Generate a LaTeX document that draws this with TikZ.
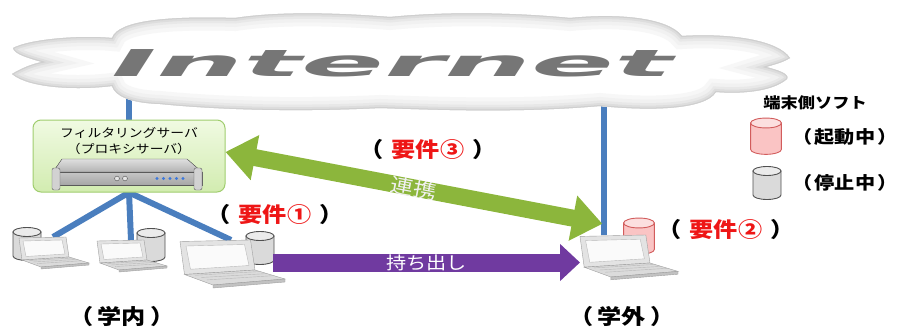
\documentclass[tikz,border=0pt]{standalone}
\usepackage{fontspec}
\setmainfont{Noto Sans CJK JP}[FakeStretch=1.15]
\newfontfamily\inetfont{DejaVu Sans Bold Oblique}
\usepackage{tikz}
\usetikzlibrary{arrows.meta,positioning,calc,backgrounds}
\definecolor{linkblue}{RGB}{74,126,190}
\definecolor{boxgreen}{RGB}{160,205,110}
\definecolor{lightgreen}{RGB}{240,250,226}
\definecolor{midgreen}{RGB}{210,236,176}
\definecolor{arrowgreen}{RGB}{140,182,60}
\definecolor{purple2}{RGB}{112,58,160}
\definecolor{red2}{RGB}{238,22,22}
\definecolor{pinkfill}{RGB}{250,196,196}
\definecolor{pinkline}{RGB}{210,92,92}
\definecolor{cylfill}{RGB}{218,218,218}
\definecolor{cylline}{RGB}{80,80,80}
\definecolor{ledblue}{RGB}{60,120,220}
\definecolor{inetgray}{RGB}{118,118,118}
\newcommand{\paren}[2]{（\hspace{#1}#2\hspace{#1}）}
\newcommand{\req}[1]{\paren{.4em}{\textcolor{red2}{要件#1}}}
\newcommand{\cloudoutline}{(112,38) .. controls (118,20) and (170,16) .. (235,18)
  .. controls (280,11) and (340,13) .. (390,17) .. controls (450,11) and (520,13) .. (570,18)
  .. controls (620,13) and (668,18) .. (682,36) .. controls (730,33) and (778,40) .. (790,58)
  .. controls (782,63) and (772,65) .. (766,67) .. controls (778,70) and (790,74) .. (787,79)
  .. controls (772,92) and (740,94) .. (716,92) .. controls (705,110) and (650,111) .. (600,106)
  .. controls (520,113) and (440,110) .. (380,108) .. controls (300,112) and (220,110) .. (160,104)
  .. controls (130,103) and (115,96) .. (112,86) .. controls (80,90) and (30,89) .. (12,74)
  .. controls (22,68) and (32,64) .. (42,62) .. controls (28,58) and (14,54) .. (13,48)
  .. controls (30,39) and (80,35) .. (112,38) -- cycle}
\tikzset{
  link/.style={draw=linkblue, line width=6pt},
  srvbox/.style={draw=boxgreen, rounded corners=8pt, line width=1pt,
    top color=lightgreen, bottom color=midgreen, minimum width=192pt, minimum height=72pt},
  reqtext/.style={font=\fontsize{21}{26}\selectfont\bfseries, inner sep=0pt},
  legtext/.style={font=\fontsize{17.5}{22}\selectfont\bfseries, inner sep=0pt},
  coop/.style={draw=arrowgreen, line width=17pt,
    {Triangle[length=30pt,width=44pt]}-{Triangle[length=30pt,width=44pt]}},
  takeout/.style={draw=purple2, line width=18pt, -{Triangle[length=20pt,width=36pt]}},
  pics/laptop/.style={code={
    \filldraw[draw=gray!75, fill=gray!22] (0,1) -- (47,0) -- (50,20) -- (3,23) -- cycle;
    \filldraw[draw=gray!55, fill=gray!4] (4,4) -- (43,3) -- (46,17) -- (7,19.5) -- cycle;
    \filldraw[draw=gray!75, fill=gray!28] (3,23) -- (50,20) -- (70,26) -- (22,30) -- cycle;
    \draw[gray!55, line width=0.4pt] (10,23.5) -- (54,21) (14,25) -- (58,22.4) (18,26.6) -- (62,23.8);
    \filldraw[draw=gray!75, fill=gray!48] (22,30) -- (70,26) -- (70,28) -- (22,32) -- cycle;
    \coordinate (-top) at (34,0);
    \coordinate (-topleft) at (17,0);
    \coordinate (-tip) at (16,-8);
    \coordinate (-east) at (62,15);
    \coordinate (-west) at (0,18);
  }},
  pics/cyl/.style n args={2}{code={
    \filldraw[draw=#1, fill=#2, line width=0.9pt] (-14,0) -- (-14,24)
      arc[start angle=180, end angle=0, x radius=14, y radius=4.5] -- (14,0) -- cycle;
    \filldraw[draw=#1, fill=#2!55!white, line width=0.9pt] (0,0) ellipse[x radius=14, y radius=4.5];
  }}
}
\begin{document}
\begin{tikzpicture}[x=1pt,y=-1pt]
\useasboundingbox (0,0) rectangle (900,329);

% cloud with a soft grey rim
\fill[white] \cloudoutline;
\begin{scope}
  \clip \cloudoutline;
  \foreach \w/\c in {26/6,18/11,11/18,6/27,2/38}
    \draw[gray!\c, line width=\w pt] \cloudoutline;
\end{scope}
\node[font=\fontsize{37}{40}\selectfont\inetfont, text=inetgray, inner sep=0pt] (inet) at (392,63)
  {\scalebox{3.3}[1]{Internet}};

% terminal software
\pic at (27,232) {cyl={cylline}{cylfill}};
\pic at (151,233) {cyl={cylline}{cylfill}};
\pic at (260,236) {cyl={cylline}{cylfill}};
\pic[scale=1.1] at (639,223) {cyl={pinkline}{pinkfill}};

% laptops
\pic (lap1) at (19,237) {laptop};
\pic (lap2) at (97,240) {laptop};
\pic[scale=1.5] (lap3) at (180,240) {laptop};
\pic[scale=1.4] (lapout) at (580,235) {laptop};

% filtering server
\node[srvbox] (srv) at (129,156) {};
\node[font=\fontsize{12}{16}\selectfont, align=center, inner sep=0pt, below=8pt of srv.north] (srvname)
  {フィルタリングサーバ\\（プロキシサーバ）};
\begin{scope}[shift={(srv.center)}]
  \filldraw[draw=gray!70!black, top color=gray!25, bottom color=gray!60] (-67,3) -- (58,3) -- (73,16) -- (-76,16) -- cycle;
  \filldraw[draw=gray!70!black, top color=gray!45, bottom color=gray!70] (-76,16) rectangle (73,29);
  \filldraw[draw=gray!70!black, fill=gray!35, rounded corners=2pt] (-77,12) rectangle (-69,34);
  \filldraw[draw=gray!70!black, fill=gray!35, rounded corners=2pt] (65,12) rectangle (73,34);
  \foreach \bx in {-12,-4} \filldraw[draw=gray!60!black, fill=gray!20] (\bx,22.5) circle (2.4);
  \foreach \lx in {28,34.5,41,47.5,54} \fill[ledblue] (\lx,22.5) circle (1.6);
\end{scope}

% network links
\begin{scope}[on background layer]
  \draw[link] (srv.north) -- (srv.north |- inet.center);
  \draw[link] (lapout-topleft) -- (lapout-topleft |- inet.center);
  \draw[link] (srv.south) -- (lap1-top);
  \draw[link] (srv.south) -- (lap2-top);
  \draw[link] (srv.south) -- (lap3-top);
\end{scope}

% arrows
\draw[coop] ([yshift=4pt]srv.east) -- (lapout-tip)
  node[midway, sloped, text=gray!12, font=\fontsize{20}{24}\selectfont] {連携};
\draw[takeout] (lap3-east) -- (lap3-east -| lapout-west)
  node[midway, text=white, font=\fontsize{17.5}{22}\selectfont] {持ち出し};

% labels
\node[reqtext] (req1) at (275,215) {\req{①}};
\node[reqtext] (req3) at (428,150) {\req{③}};
\node[reqtext] (req2) at (726,230) {\req{②}};
\node[reqtext] (inside) at (122,317) {\paren{.2em}{学内}};
\node[reqtext] (outside) at (622,317) {\paren{.2em}{学外}};

% legend
\node[font=\fontsize{15}{18}\selectfont\bfseries, inner sep=0pt] (legtitle) at (815,103) {端末側ソフト};
\pic[scale=1.1] at (766,123) {cyl={pinkline}{pinkfill}};
\node[legtext] (running) at (845,137) {\paren{.15em}{起動中}};
\pic at (767,171) {cyl={cylline}{cylfill}};
\node[legtext] (stopped) at (845,183) {\paren{.15em}{停止中}};
\end{tikzpicture}
\end{document}
